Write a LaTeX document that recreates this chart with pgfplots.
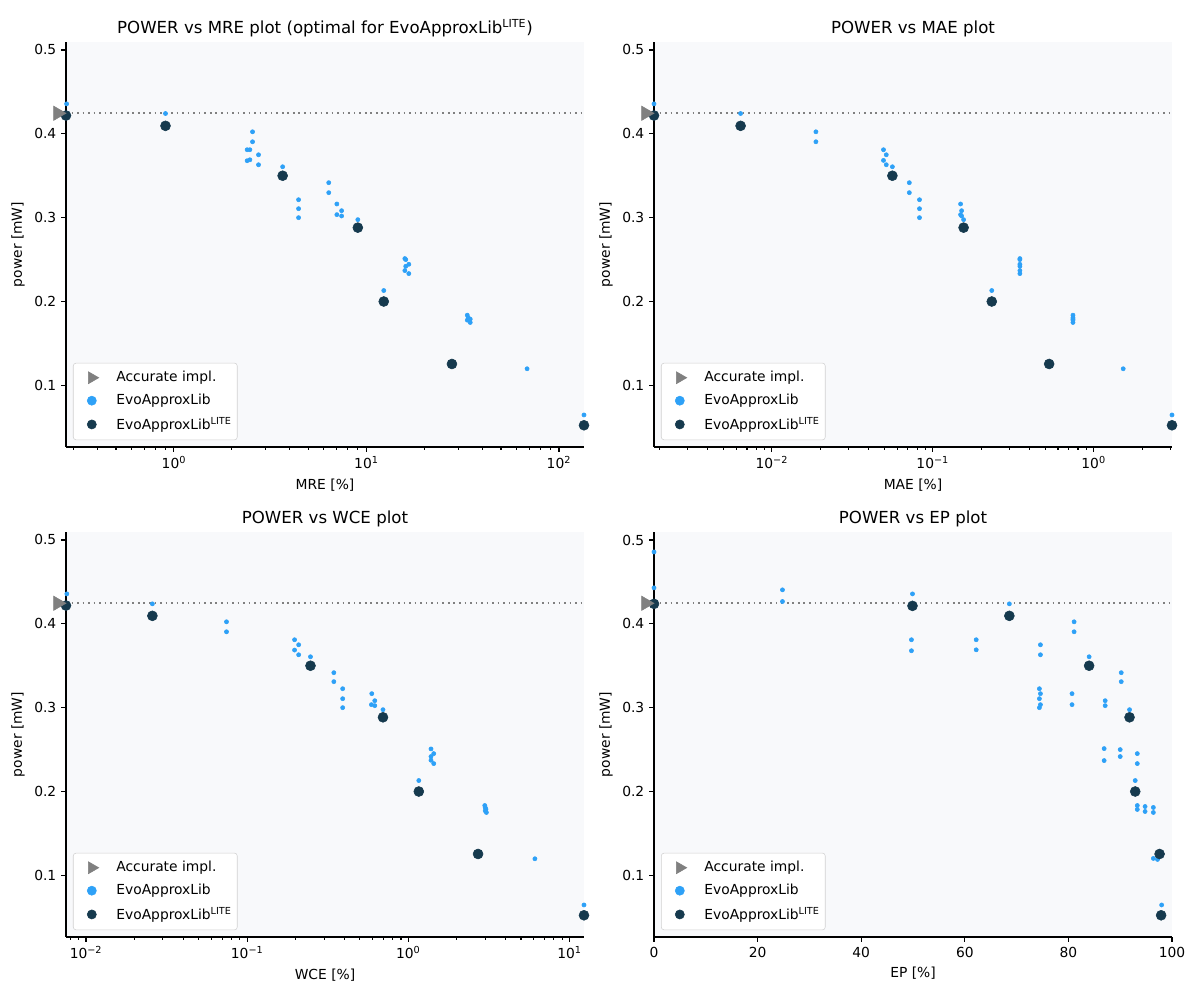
\documentclass[border=0pt]{standalone}
\usepackage{fontspec}
\setmainfont{DejaVu Sans}
\usepackage{pgfplots}
\pgfplotsset{compat=1.18}

\definecolor{evo}{RGB}{46,161,247}
\definecolor{lite}{RGB}{22,58,78}
\definecolor{acc}{RGB}{128,128,128}
\definecolor{bg}{RGB}{248,249,251}

\pgfplotsset{
  panel/.style={
    scale only axis, width=5.18in, height=4.05in,
    axis lines*=left,
    axis background/.style={fill=bg},
    ymin=0.0265, ymax=0.5095,
    ytick={0.1,0.2,0.3,0.4,0.5},
    yticklabels={0.1,0.2,0.3,0.4,0.5},
    ylabel={power [mW]},
    tick align=outside,
    major tick length=3.5pt, minor tick length=2pt,
    every tick/.style={black, line width=0.8pt},
    axis line style={line width=0.8pt},
    tick label style={font=\fontsize{10}{12}\selectfont},
    label style={font=\fontsize{10}{12}\selectfont},
    title style={font=\fontsize{12}{14}\selectfont, yshift=-6pt},
    every axis x label/.style={at={(ticklabel cs:0.5)}, anchor=near ticklabel},
    every axis y label/.style={at={(ticklabel cs:0.5)}, rotate=90, anchor=near ticklabel},
    clip mode=individual,
    legend cell align=left,
    legend style={at={(0.0135,0.017)}, anchor=south west, draw=black!18,
      rounded corners=2pt, fill=white, font=\fontsize{10}{12}\selectfont,
      row sep=3.5pt, inner xsep=2pt, inner ysep=4pt},
  },
  legmark/.style={only marks,
    legend image code/.code={%
      \path (0in,0in) (0.37in,0in);
      \draw[##1] plot coordinates {(0.155in,0in)};}},
  light/.style={only marks, mark=*, mark size=1.5pt, color=evo, forget plot},
  dark/.style={only marks, mark=*, mark size=3.6pt, color=lite, forget plot},
  accline/.style={acc, line width=1.2pt, dash pattern=on 1.2pt off 2.8pt, forget plot},
  accmark/.style={only marks, mark=triangle*, mark size=6pt, color=acc,
    mark options={xshift=-6pt, rotate=-90}, clip=false, forget plot},
}

\newcommand{\legendset}{%
  \addlegendimage{legmark, mark=triangle*, mark size=5pt, color=acc, mark options={rotate=-90}}
  \addlegendentry{Accurate impl.}
  \addlegendimage{legmark, mark=*, mark size=3.3pt, color=evo}
  \addlegendentry{EvoApproxLib}
  \addlegendimage{legmark, mark=*, mark size=3.3pt, color=lite}
  \addlegendentry{EvoApproxLib\textsuperscript{LITE}}
}

\begin{document}
\begin{tikzpicture}
\path[use as bounding box] (0,0) rectangle (12in,10in);

% MRE
\begin{axis}[panel, at={(0.66in,5.53in)}, anchor=south west,
  xmode=log, xmin=0.275, xmax=134.9,
  xtick={1,10,100}, xticklabels={10\textsuperscript{0},10\textsuperscript{1},10\textsuperscript{2}},
  minor xtick={0.3,0.4,0.5,0.6,0.7,0.8,0.9,2,3,4,5,6,7,8,9,20,30,40,50,60,70,80,90},
  xlabel={MRE [\%]},
  title={POWER vs MRE plot (optimal for EvoApproxLib\textsuperscript{LITE})}]
\legendset
\addplot[accline] coordinates {(0.275,0.4245) (134.9,0.4245)};
\addplot[light] coordinates {
(0.277,0.4357) (0.904,0.4242) (2.56,0.4024) (2.56,0.3905) (2.40,0.381) (2.48,0.381)
(2.75,0.375) (2.40,0.3679) (2.48,0.3690) (2.75,0.3631) (3.67,0.3607)
(4.44,0.3214) (4.44,0.3107) (4.44,0.3) (6.37,0.3417) (6.37,0.3298)
(7.02,0.3163) (7.43,0.3083) (7.02,0.3036) (7.43,0.302) (9.02,0.2976)
(15.83,0.2512) (16.0,0.25) (16.6,0.2444) (16.0,0.242) (15.83,0.2369) (16.6,0.2333)
(12.3,0.2131) (33.4,0.1837) (33.8,0.1806) (34.6,0.179) (33.4,0.1778) (34.6,0.175)
(68.3,0.1198) (134.9,0.0647)};
\addplot[dark] coordinates {
(0.275,0.4218) (0.904,0.4095) (3.67,0.350) (9.02,0.2881) (12.3,0.2) (27.8,0.1255) (134.9,0.0524)};
\addplot[accmark] coordinates {(0.275,0.4245)};
\end{axis}

% MAE
\begin{axis}[panel, at={(6.54in,5.53in)}, anchor=south west,
  xmode=log, xmin=0.00185, xmax=3.07,
  xtick={0.01,0.1,1}, xticklabels={10\textsuperscript{−2},10\textsuperscript{−1},10\textsuperscript{0}},
  minor xtick={0.002,0.003,0.004,0.005,0.006,0.007,0.008,0.009,0.02,0.03,0.04,0.05,0.06,0.07,0.08,0.09,0.2,0.3,0.4,0.5,0.6,0.7,0.8,0.9,2,3},
  xlabel={MAE [\%]},
  title={POWER vs MAE plot}]
\legendset
\addplot[accline] coordinates {(0.00185,0.4245) (3.07,0.4245)};
\addplot[light] coordinates {
(0.00185,0.4357) (0.00639,0.4242) (0.01878,0.4024) (0.01878,0.3905)
(0.0494,0.381) (0.0514,0.375) (0.0494,0.3683) (0.0514,0.3631) (0.0561,0.3607)
(0.0715,0.3417) (0.0715,0.3298) (0.0827,0.3214) (0.0827,0.3107) (0.0827,0.3)
(0.1489,0.3163) (0.1511,0.3083) (0.1489,0.3036) (0.1511,0.302) (0.1555,0.2976)
(0.348,0.2512) (0.348,0.25) (0.348,0.2444) (0.348,0.242) (0.348,0.2369) (0.348,0.2333)
(0.2327,0.2131) (0.744,0.1837) (0.744,0.1806) (0.744,0.179) (0.744,0.1778) (0.744,0.175)
(1.527,0.1198) (3.07,0.0647)};
\addplot[dark] coordinates {
(0.00185,0.4218) (0.00639,0.4095) (0.0561,0.350) (0.1555,0.2881) (0.2327,0.2) (0.529,0.1255) (3.07,0.0524)};
\addplot[accmark] coordinates {(0.00185,0.4245)};
\end{axis}

% WCE
\begin{axis}[panel, at={(0.66in,0.63in)}, anchor=south west,
  xmode=log, xmin=0.00751, xmax=12.3,
  xtick={0.01,0.1,1,10}, xticklabels={10\textsuperscript{−2},10\textsuperscript{−1},10\textsuperscript{0},10\textsuperscript{1}},
  minor xtick={0.008,0.009,0.02,0.03,0.04,0.05,0.06,0.07,0.08,0.09,0.2,0.3,0.4,0.5,0.6,0.7,0.8,0.9,2,3,4,5,6,7,8,9},
  xlabel={WCE [\%]},
  title={POWER vs WCE plot}]
\legendset
\addplot[accline] coordinates {(0.00751,0.4245) (12.3,0.4245)};
\addplot[light] coordinates {
(0.0076,0.4357) (0.0258,0.4238) (0.0744,0.4024) (0.0744,0.3905)
(0.1968,0.381) (0.2086,0.375) (0.1968,0.3687) (0.2086,0.3631) (0.247,0.3607)
(0.3449,0.3417) (0.3449,0.331) (0.3913,0.3226) (0.3913,0.3107) (0.3913,0.3)
(0.593,0.3167) (0.619,0.3083) (0.590,0.3036) (0.619,0.3024) (0.696,0.2976)
(1.382,0.2508) (1.437,0.2452) (1.382,0.2417) (1.382,0.2373) (1.437,0.2333)
(1.161,0.2131) (2.98,0.1833) (3.00,0.181) (3.03,0.179) (3.00,0.177) (3.05,0.175)
(6.10,0.1198) (12.3,0.0647)};
\addplot[dark] coordinates {
(0.00751,0.4218) (0.0258,0.4095) (0.247,0.350) (0.696,0.2885) (1.161,0.2) (2.707,0.1255) (12.3,0.0524)};
\addplot[accmark] coordinates {(0.00751,0.4245)};
\end{axis}

% EP
\begin{axis}[panel, at={(6.54in,0.63in)}, anchor=south west,
  xmin=0, xmax=100,
  xtick={0,20,40,60,80,100}, xticklabels={0,20,40,60,80,100},
  xlabel={EP [\%]},
  title={POWER vs EP plot}]
\legendset
\addplot[accline] coordinates {(0,0.4245) (100,0.4245)};
\addplot[light] coordinates {
(0,0.4857) (0,0.4429) (24.8,0.4405) (24.8,0.4266) (49.9,0.4357)
(49.7,0.381) (49.7,0.3679) (62.2,0.381) (62.2,0.369) (68.6,0.4238)
(74.6,0.375) (74.6,0.3631) (81.1,0.4024) (81.1,0.3905) (84.0,0.3607)
(90.2,0.3417) (90.2,0.331) (74.4,0.3226) (74.6,0.3167) (74.4,0.3107) (74.6,0.3036) (74.4,0.3)
(80.7,0.3167) (80.7,0.3036) (87.1,0.3083) (87.1,0.3024) (91.8,0.2976)
(86.9,0.2512) (86.9,0.2369) (90.0,0.25) (90.0,0.2417) (93.3,0.2452) (93.3,0.2333)
(92.9,0.2131) (93.3,0.1833) (93.3,0.1786) (94.8,0.1821) (94.8,0.1762)
(96.4,0.181) (96.4,0.175) (96.4,0.1202) (97.2,0.119) (98.0,0.0647)};
\addplot[dark] coordinates {
(0,0.4238) (49.9,0.4214) (68.6,0.4095) (84.0,0.350) (91.8,0.2885) (92.9,0.2) (97.6,0.1255) (97.9,0.0524)};
\addplot[accmark] coordinates {(0,0.4245)};
\end{axis}
\end{tikzpicture}
\end{document}
